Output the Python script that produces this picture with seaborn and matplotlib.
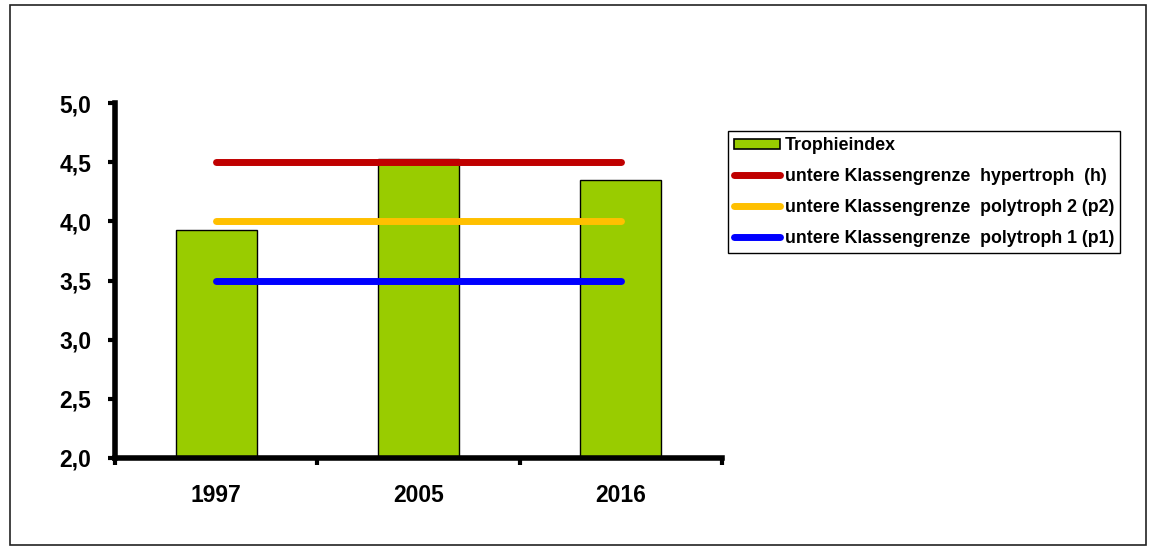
import numpy as np
import pandas as pd
import matplotlib
matplotlib.use("Agg")
import matplotlib.pyplot as plt
import seaborn as sns
from matplotlib.patches import Rectangle, Patch
from matplotlib.lines import Line2D

years = ["1997", "2005", "2016"]
trophieindex = [3.93, 4.53, 4.35]
limit_labels = [
    "untere Klassengrenze  hypertroph  (h)",
    "untere Klassengrenze  polytroph 2 (p2)",
    "untere Klassengrenze  polytroph 1 (p1)",
]
limit_values = [4.5, 4.0, 3.5]
limit_colors = ["#C00000", "#FFC000", "#0000FF"]
y_ticks = [2.0, 2.5, 3.0, 3.5, 4.0, 4.5, 5.0]

sns.set_theme(style="white")
plt.rcParams["font.family"] = ["Liberation Sans", "DejaVu Sans"]
plt.rcParams["font.weight"] = "bold"
plt.rcParams["text.color"] = "black"
plt.rcParams["xtick.color"] = "black"
plt.rcParams["ytick.color"] = "black"

W, H = 1149, 554
fig = plt.figure(figsize=(W / 100, H / 100), dpi=100)
fig.patch.set_facecolor("white")
fig.patches.append(Rectangle((10 / W, 1 - 545 / H), (1146 - 10) / W, (545 - 5) / H,
                             transform=fig.transFigure, fill=False,
                             edgecolor="#222222", linewidth=1.2))

ax = fig.add_axes([115 / W, 1 - 458 / H, (722 - 115) / W, (458 - 103) / H])
df = pd.DataFrame({"Jahr": years, "Trophieindex": trophieindex})
sns.barplot(data=df, x="Jahr", y="Trophieindex", color="#99CC00", width=0.4,
            edgecolor="black", linewidth=1.0, saturation=1, ax=ax, zorder=2)

pos = np.arange(len(years))
for val, col in zip(limit_values, limit_colors):
    ax.hlines(val, pos[0], pos[-1], colors=col, linewidth=5,
              capstyle="round", zorder=3)

ax.set_xlim(-0.5, len(years) - 0.5)
ax.set_ylim(y_ticks[0], y_ticks[-1])
ax.set_yticks(y_ticks)
ax.set_yticklabels([f"{t:.1f}".replace(".", ",") for t in y_ticks],
                   fontsize=16.5, fontweight="bold", color="black")
ax.set_xticks(np.arange(len(years) + 1) - 0.5)
ax.set_xticklabels([])
ax.set_xticks(pos, minor=True)
ax.set_xticklabels(years, minor=True, fontsize=16.5, fontweight="bold", color="black")
ax.tick_params(axis="x", which="minor", length=0, pad=19)
ax.tick_params(axis="x", which="major", direction="out", length=5, width=3,
               color="black", bottom=True)
ax.tick_params(axis="y", direction="out", length=5, width=3, color="black",
               left=True, pad=12)
ax.set_xlabel("")
ax.set_ylabel("")
for s in ["top", "right"]:
    ax.spines[s].set_visible(False)
for s in ["left", "bottom"]:
    ax.spines[s].set_linewidth(4)
    ax.spines[s].set_color("black")
ax.grid(False)

handles = [Patch(facecolor="#99CC00", edgecolor="black", linewidth=1.2)]
for col in limit_colors:
    handles.append(Line2D([0], [0], color=col, linewidth=5, solid_capstyle="round"))
leg = fig.legend(handles, ["Trophieindex"] + limit_labels,
                 loc="upper left", bbox_to_anchor=(728 / W, 1 - 131 / H),
                 frameon=True, fancybox=False, framealpha=1,
                 prop={"size": 12.8, "weight": "bold"},
                 handlelength=2.6, handleheight=0.55, handletextpad=0.25,
                 labelspacing=0.78, borderpad=0.35, borderaxespad=0)
for t in leg.get_texts():
    t.set_color("black")
leg.get_frame().set_edgecolor("black")
leg.get_frame().set_linewidth(1.0)

fig.savefig("out.png", dpi=100)
